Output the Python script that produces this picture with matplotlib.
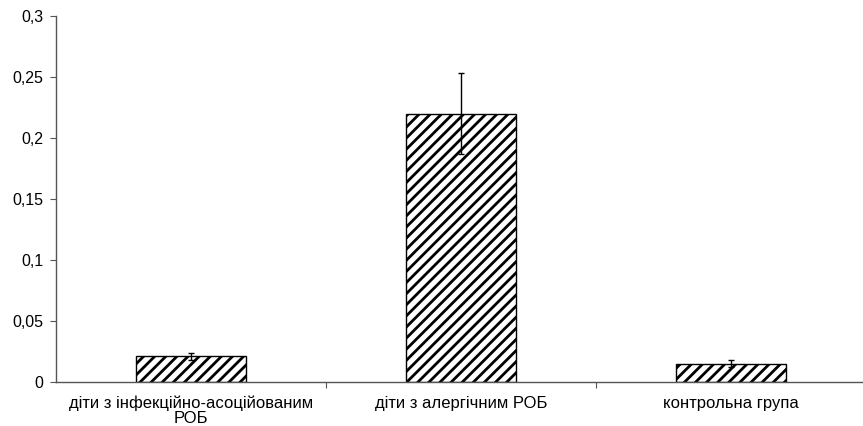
import matplotlib.pyplot as plt
import numpy as np
from matplotlib.ticker import FuncFormatter, FixedLocator

plt.rcParams['font.family'] = ['Liberation Sans', 'DejaVu Sans']
plt.rcParams['hatch.linewidth'] = 2.0

categories = ['діти з інфекційно-асоційованим\nРОБ', 'діти з алергічним РОБ', 'контрольна група']
values = [0.021, 0.220, 0.015]
errors = [0.003, 0.033, 0.003]

fig = plt.figure(figsize=(8.63, 4.26), dpi=100)
# the category axis runs a little past the right edge of the canvas
ax = fig.add_axes([0.0649, 0.1033, 0.9386, 0.859])

x = np.arange(len(categories))
ax.bar(x, values, width=0.404, color='white', edgecolor='black', linewidth=1.0,
       hatch='///', yerr=errors, capsize=2.5,
       error_kw={'elinewidth': 1.0, 'capthick': 1.0, 'ecolor': 'black'})

ax.set_xlim(-0.5, 2.5)
ax.set_ylim(0, 0.3)
ax.set_yticks(np.arange(0, 0.31, 0.05))
ax.yaxis.set_major_formatter(FuncFormatter(lambda v, p: ('%g' % round(v, 3)).replace('.', ',')))

# category boundaries carry tick marks, centres carry labels
ax.xaxis.set_major_locator(FixedLocator([0.5, 1.5]))
ax.xaxis.set_major_formatter(FuncFormatter(lambda v, p: ''))
ax.xaxis.set_minor_locator(FixedLocator(x))
ax.set_xticklabels(categories, minor=True, linespacing=1.0)
ax.tick_params(axis='x', which='minor', length=0, pad=10, labelsize=12)
ax.tick_params(axis='x', which='major', length=4, direction='out', color='#555555')
ax.tick_params(axis='y', length=4.5, direction='out', color='#555555', labelsize=11.5, pad=4.5)

for s in ['top', 'right']:
    ax.spines[s].set_visible(False)
for s in ['left', 'bottom']:
    ax.spines[s].set_color('#555555')
    ax.spines[s].set_linewidth(1.0)

fig.savefig('out.png', dpi=100)
